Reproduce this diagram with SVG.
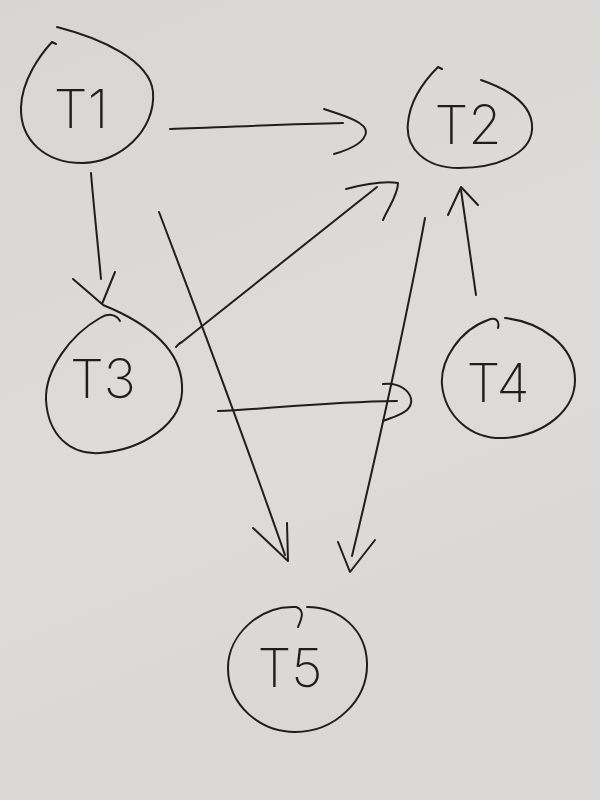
<svg xmlns="http://www.w3.org/2000/svg" width="600" height="800" viewBox="0 0 600 800">
  <defs>
    <linearGradient id="paper" x1="0" y1="0" x2="0.3" y2="1">
      <stop offset="0" stop-color="#d7d6d3"/>
      <stop offset="0.6" stop-color="#dddcda"/>
      <stop offset="1" stop-color="#d9d8d6"/>
    </linearGradient>
    <style>
      .ink { fill: none; stroke: #1e1e1e; stroke-width: 2; stroke-linecap: round; stroke-linejoin: round; }
      .lbl { font-family: Inter, "DejaVu Sans", "Liberation Sans", sans-serif; font-weight: 200; font-size: 54px; fill: #1e1e1e; text-anchor: middle; }
    </style>
  </defs>
  <rect width="600" height="800" fill="url(#paper)"/>

  <g id="connectors">
    <!-- T1 -> T2 -->
    <path class="ink" d="M170,129 C230,127 290,124 343,123"/>
    <path class="ink" d="M324,109 C345,116 366,122 366,132 C365,143 348,150 334,154"/>
    <!-- T1 -> T3 -->
    <path class="ink" d="M91,173 C94,210 98,245 101,279"/>
    <path class="ink" d="M73,279 L102,304 L115,272"/>
    <!-- T1 -> T5 -->
    <path class="ink" d="M159,212 C200,320 245,440 285,555"/>
    <path class="ink" d="M253,528 L288,561 L287,523"/>
    <!-- T3 -> T2 -->
    <path class="ink" d="M176,347 C180,343 178,344 182,342 L377,187"/>
    <path class="ink" d="M346,189 C365,184 385,181 398,183 C398,195 388,208 383,220"/>
    <!-- T2 -> T5 -->
    <path class="ink" d="M425,218 C410,300 380,440 352,556"/>
    <path class="ink" d="M338,542 L350,572 L375,540"/>
    <!-- T4 -> T2 -->
    <path class="ink" d="M476,295 C470,255 465,220 461,190"/>
    <path class="ink" d="M448,215 L461,187 L478,205"/>
    <!-- T3 -> T4 with hop -->
    <path class="ink" d="M218,411 C270,409 320,402 397,401"/>
    <path class="ink" d="M383,384 C390,383 397,384 403,388 C412,394 414,403 407,410 C400,416 390,418 383,421"/>
  </g>

  <g id="T1">
    <path class="ink" d="M57,27 C100,38 150,60 153,92 C156,130 120,163 82,163 C45,163 20,140 21,107 C22,80 40,55 52,42 L56,44"/>
    <text class="lbl" x="81" y="128">T1</text>
  </g>
  <g id="T2">
    <path class="ink" d="M481,80 C510,90 534,105 532,130 C530,155 495,168 459,168 C425,168 405,148 408,123 C410,100 425,80 438,67 L442,69"/>
    <text class="lbl" x="468" y="144">T2</text>
  </g>
  <g id="T3">
    <path class="ink" d="M120,321 C116,314 108,313 100,318 C70,335 45,370 46,400 C48,435 70,455 100,453 C140,450 185,425 182,385 C180,345 140,320 103,305"/>
    <text class="lbl" x="103" y="398">T3</text>
  </g>
  <g id="T4">
    <path class="ink" d="M498,328 C500,320 495,317 488,320 C460,330 440,360 442,385 C445,415 470,440 505,438 C545,435 575,410 575,380 C575,345 540,322 505,318"/>
    <text class="lbl" x="498" y="402">T4</text>
  </g>
  <g id="T5">
    <path class="ink" d="M298,627 C302,618 305,610 296,607 C260,605 228,635 228,668 C228,705 260,732 295,732 C335,732 368,700 367,663 C366,630 340,607 307,607"/>
    <text class="lbl" x="290" y="687">T5</text>
  </g>
</svg>
